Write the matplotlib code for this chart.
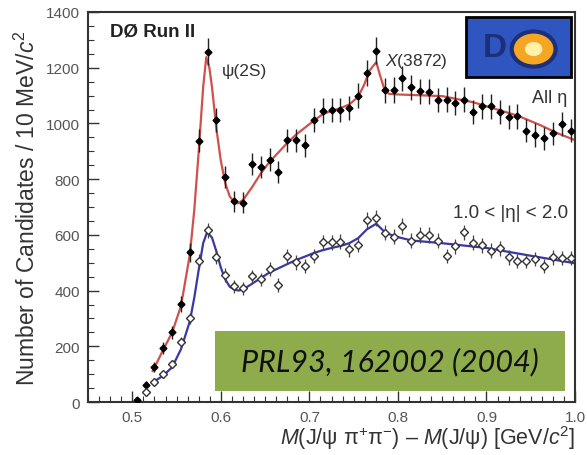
import numpy as np
import matplotlib.pyplot as plt
from matplotlib.patches import Rectangle, Circle
from matplotlib.ticker import MultipleLocator

plt.rcParams['font.family'] = ['Liberation Sans', 'DejaVu Sans']
plt.rcParams['mathtext.fontset'] = 'custom'
plt.rcParams['mathtext.rm'] = 'Liberation Sans'
plt.rcParams['mathtext.it'] = 'Liberation Sans:italic'
plt.rcParams['mathtext.bf'] = 'Liberation Sans:bold'

# bin centres (10 MeV bins)
mass_all = [0.505, 0.515, 0.525, 0.535, 0.545, 0.555, 0.565, 0.575, 0.585, 0.595,
            0.605, 0.615, 0.625, 0.635, 0.645, 0.655, 0.665, 0.675, 0.685, 0.695,
            0.705, 0.715, 0.725, 0.735, 0.745, 0.755, 0.765, 0.775, 0.785, 0.795,
            0.805, 0.815, 0.825, 0.835, 0.845, 0.855, 0.865, 0.875, 0.885, 0.895,
            0.905, 0.915, 0.925, 0.935, 0.945, 0.955, 0.965, 0.975, 0.985, 0.995]
counts_all = [8, 61, 126, 193, 250, 352, 537, 938, 1258, 1013,
              808, 721, 715, 855, 843, 870, 824, 940, 940, 921,
              1012, 1046, 1048, 1048, 1055, 1100, 1182, 1261, 1119, 1120,
              1162, 1129, 1116, 1114, 1084, 1085, 1073, 1085, 1042, 1061,
              1061, 1040, 1022, 1025, 974, 958, 946, 964, 998, 974]

mass_fwd = mass_all[1:]
counts_fwd = [36, 73, 100, 135, 214, 300, 507, 616, 522,
              455, 415, 408, 451, 440, 477, 420, 523, 501, 490,
              524, 573, 574, 576, 548, 565, 652, 660, 608, 593,
              631, 579, 599, 599, 579, 525, 559, 609, 571, 563,
              543, 552, 519, 507, 507, 513, 489, 519, 516, 516]

# fit curves
fit_x_all = [0.523, 0.535, 0.545, 0.555, 0.565, 0.570, 0.575, 0.580, 0.5835, 0.587,
             0.590, 0.595, 0.600, 0.605, 0.610, 0.615, 0.619, 0.625, 0.635, 0.645,
             0.655, 0.665, 0.675, 0.685, 0.695, 0.705, 0.715, 0.725, 0.735, 0.745,
             0.755, 0.762, 0.768, 0.7755, 0.780, 0.785, 0.790, 0.800, 0.850, 0.885,
             0.935, 0.960, 0.980, 1.000]
fit_y_all = [111, 188, 250, 345, 530, 690, 900, 1130, 1238, 1200,
             1130, 980, 865, 785, 738, 718, 713, 725, 770, 820,
             862, 896, 930, 960, 985, 1010, 1033, 1045, 1055, 1068,
             1095, 1140, 1190, 1220, 1170, 1120, 1106, 1104, 1098, 1076,
             1028, 995, 965, 940]

fit_x_fwd = [0.523, 0.535, 0.545, 0.555, 0.565, 0.570, 0.575, 0.580, 0.5845, 0.590,
             0.595, 0.600, 0.605, 0.610, 0.615, 0.620, 0.625, 0.635, 0.645, 0.655,
             0.665, 0.675, 0.685, 0.695, 0.705, 0.715, 0.725, 0.735, 0.745, 0.755,
             0.765, 0.7755, 0.780, 0.785, 0.795, 0.815, 0.850, 0.900, 0.950, 1.000]
fit_y_fwd = [70, 95, 125, 190, 290, 375, 475, 570, 610, 590,
             540, 482, 440, 414, 404, 400, 404, 424, 445, 465,
             480, 495, 510, 522, 535, 545, 553, 560, 570, 588,
             620, 640, 626, 610, 596, 580, 570, 553, 525, 498]

err_all = np.sqrt(np.array(counts_all)) * 1.2 + 5
err_fwd = np.sqrt(np.array(counts_fwd)) * 1.0 + 3

fig = plt.figure(figsize=(5.87, 4.56), dpi=100)
ax = fig.add_axes([0.150, 0.1162, 0.8296, 0.8553])

ax.plot(fit_x_all, fit_y_all, color='#d0504c', lw=1.6, zorder=2)
ax.plot(fit_x_fwd, fit_y_fwd, color='#3838a8', lw=1.6, zorder=2)

ax.errorbar(mass_all, counts_all, yerr=err_all, xerr=0.003, fmt='D', ms=3.5,
            mfc='black', mec='black', ecolor='#222222', elinewidth=1.0,
            capsize=0, zorder=3)
ax.errorbar(mass_fwd, counts_fwd, yerr=err_fwd, fmt='D', ms=4, mfc='white',
            mec='#333333', mew=1.0, ecolor='#444444', elinewidth=0.9,
            capsize=0, zorder=3)

ax.set_xlim(0.45, 1.0)
ax.set_ylim(0, 1400)
ax.xaxis.set_minor_locator(MultipleLocator(0.0125))
ax.yaxis.set_minor_locator(MultipleLocator(50))
ax.set_xticks([0.5, 0.6, 0.7, 0.8, 0.9, 1.0])
ax.set_xticklabels(['0.5', '0.6', '0.7', '0.8', '0.9', '1.0'])
ax.set_yticks([0, 200, 400, 600, 800, 1000, 1200, 1400])
ax.set_yticklabels(['0', '200', '400', '600', '800', '1000', '1200', '1400'])
ax.tick_params(which='major', direction='in', length=8, width=1.0,
               labelsize=11, labelcolor='#555555', color='#333333', pad=6)
ax.tick_params(which='minor', direction='in', length=4, width=0.8, color='#333333')
for s in ax.spines.values():
    s.set_linewidth(1.5)
    s.set_color('#333333')

ax.set_ylabel('Number of Candidates / 10 MeV/$c^{2}$', fontsize=16.5,
              color='#333333', labelpad=4)
ax.set_xlabel('$M$(J/ψ π$^{+}$π$^{-}$) – $M$(J/ψ) [GeV/$c^{2}$]',
              fontsize=15.5, color='#333333', labelpad=-1, loc='right')

ax.text(0.045, 0.95, 'DØ Run II', transform=ax.transAxes, fontsize=13.5,
        fontweight='bold', color='#222222', va='center')
ax.text(0.275, 0.85, 'ψ(2S)', transform=ax.transAxes, fontsize=12.5,
        color='#333333', va='center')
ax.text(0.61, 0.875, '$X$(3872)', transform=ax.transAxes, fontsize=12.5,
        color='#333333', va='center')
ax.text(0.985, 0.78, 'All η', transform=ax.transAxes, fontsize=13,
        color='#333333', va='center', ha='right')
ax.text(0.985, 0.485, '1.0 < |η| < 2.0', transform=ax.transAxes,
        fontsize=13.5, color='#333333', va='center', ha='right')

# DØ logo box
ax.add_patch(Rectangle((0.776, 0.833), 0.216, 0.154, transform=ax.transAxes,
                       facecolor='#2f55c0', edgecolor='black', lw=2, zorder=5))
ax.text(0.835, 0.91, 'D', transform=ax.transAxes, fontsize=24,
        fontweight='bold', color='#1c2f7a', ha='center', va='center', zorder=6)
ax.add_patch(Circle((0.915, 0.905), 0.045, transform=ax.transAxes,
                    facecolor='#f5a623', edgecolor='#1c2f7a', lw=3, zorder=6))
ax.add_patch(Circle((0.915, 0.905), 0.018, transform=ax.transAxes,
                    facecolor='#fff2a8', edgecolor='none', zorder=7))

# publication reference box
ax.add_patch(Rectangle((0.261, 0.028), 0.718, 0.154, transform=ax.transAxes,
                       facecolor='#8fac4c', edgecolor='none', zorder=4))
ax.text(0.62, 0.105, 'PRL93, 162002 (2004)', transform=ax.transAxes,
        fontsize=22, fontstyle='italic', family='Lato', color='#111111',
        ha='center', va='center', zorder=5)

fig.savefig('out.png', dpi=100)
